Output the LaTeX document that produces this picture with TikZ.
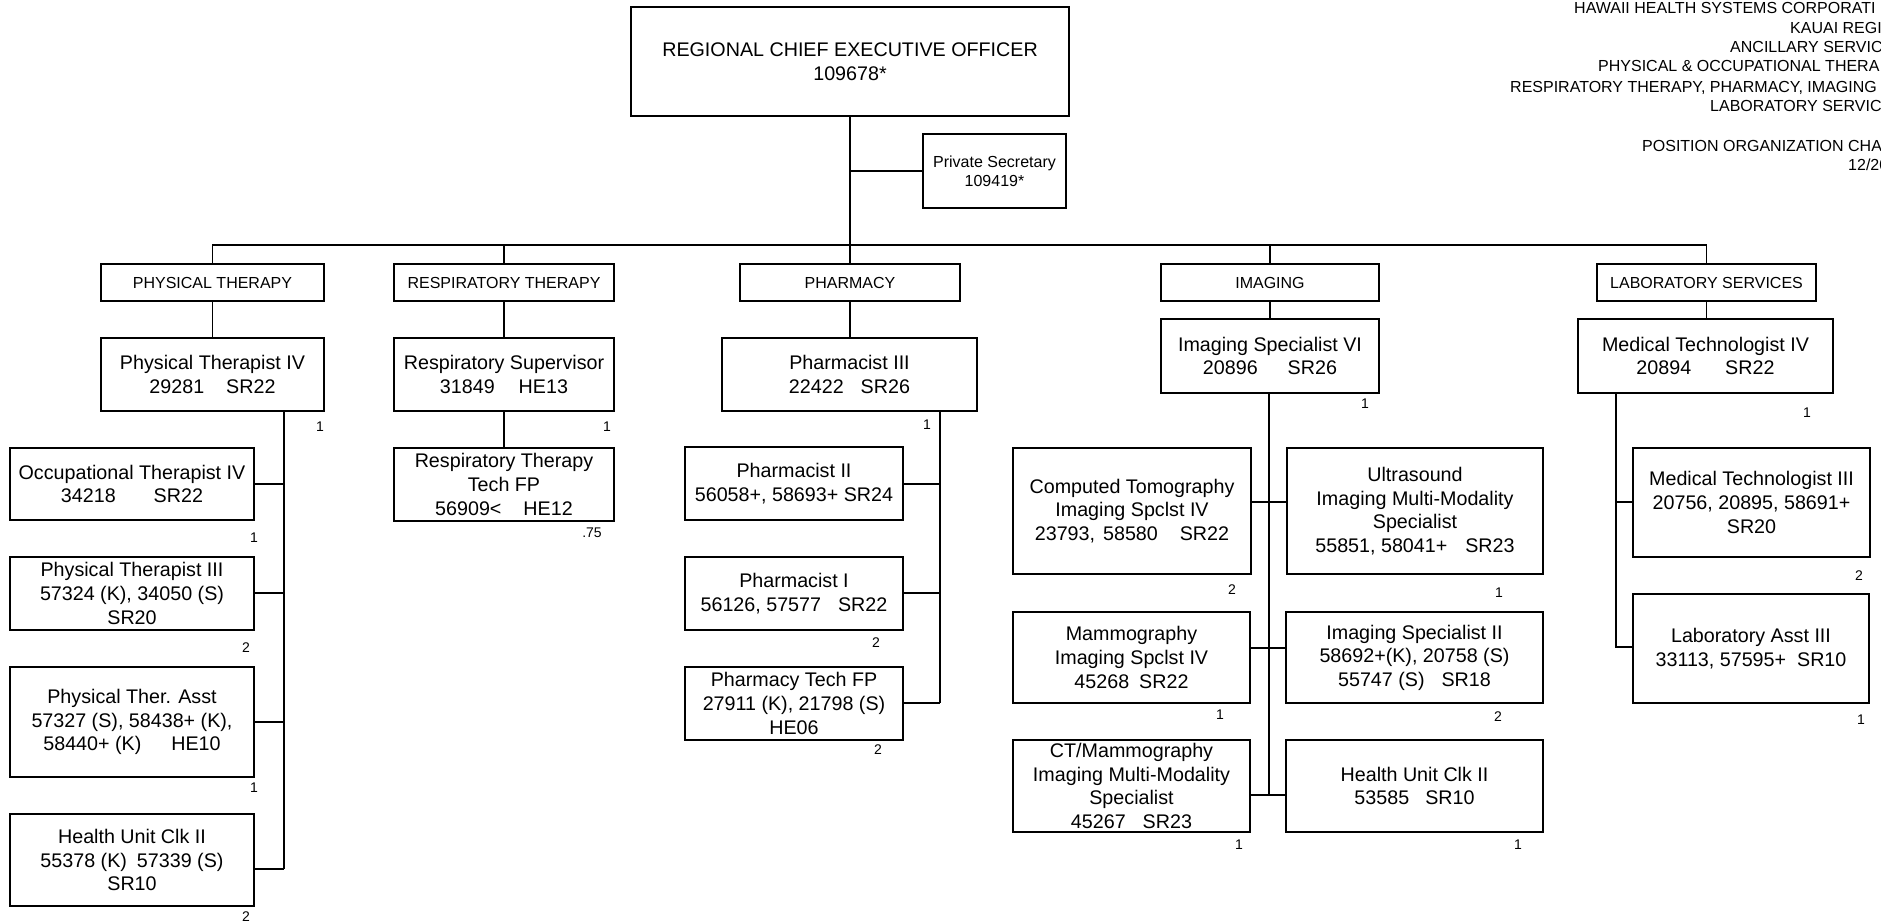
\documentclass[tikz,border=0pt]{standalone}
\usepackage{fontspec}
\setmainfont{Liberation Sans}
\tikzset{
  box/.style={draw, line width=1.4pt, inner sep=0pt, outer sep=0pt, align=center, font=\fontsize{19.7}{23.6}\selectfont},
  dept/.style={box, font=\fontsize{16}{19}\selectfont},
  psbox/.style={box, line width=2pt, font=\fontsize{16}{19}\selectfont},
  conn/.style={line width=1.4pt},
  cnt/.style={inner sep=0pt, font=\fontsize{14}{16}\selectfont},
  hdr/.style={inner sep=0pt, anchor=base west, font=\fontsize{16}{19}\selectfont},
}
\newcommand\orgbox[7][box]{\node[#1, minimum width={(#5-#3)*1pt}, minimum height={(#6-#4)*1pt}] (#2) at ({(#3+#5)/2},{(#4+#6)/2}) {#7};}
\begin{document}
\begin{tikzpicture}[x=1pt,y=-1pt]
\useasboundingbox (0,0) rectangle (1881,923);
\fill[white] (0,0) rectangle (1881,923);
\clip (0,0) rectangle (1881,923);

% header (clipped at right edge)
\node[hdr] (h1) at (1574,14) {HAWAII HEALTH SYSTEMS CORPORATI};
\node[hdr] (h2) at (1790,34) {KAUAI REGI};
\node[hdr] (h3) at (1730,53) {ANCILLARY SERVIC};
\node[hdr] (h4) at (1598,72) {PHYSICAL \& OCCUPATIONAL THERA};
\node[hdr] (h5) at (1510,93) {RESPIRATORY THERAPY, PHARMACY, IMAGING};
\node[hdr] (h6) at (1710,112) {LABORATORY SERVIC};
\node[hdr] (h7) at (1642,151) {POSITION ORGANIZATION CHA};
\node[hdr] (h8) at (1848,170) {12/20};

% top
\orgbox{ceo}{631}{7}{1069}{116}{REGIONAL CHIEF EXECUTIVE OFFICER\\109678*}
\orgbox[psbox]{ps}{923}{134}{1066}{208}{Private Secretary\\109419*}

% departments
\orgbox[dept]{ptd}{101}{264}{324}{301}{PHYSICAL THERAPY}
\orgbox[dept]{rtd}{394}{264}{614}{301}{RESPIRATORY THERAPY}
\orgbox[dept]{phd}{740}{264}{960}{301}{PHARMACY}
\orgbox[dept]{imd}{1161}{264}{1379}{301}{IMAGING}
\orgbox[dept]{labd}{1597}{264}{1816}{301}{LABORATORY SERVICES}

% heads
\orgbox{pt4}{101}{338}{324}{411}{Physical Therapist IV\\29281\hspace{22pt}SR22}
\orgbox{rs}{394}{338}{614}{411}{Respiratory Supervisor\\31849\hspace{24pt}HE13}
\orgbox{ph3}{722}{338}{977}{411}{Pharmacist III\\22422\hspace{17pt}SR26}
\orgbox{is6}{1161}{319}{1379}{393}{Imaging Specialist VI\\20896\hspace{30pt}SR26}
\orgbox{mt4}{1578}{319}{1833}{393}{Medical Technologist IV\\20894\hspace{34pt}SR22}

% physical therapy
\orgbox{ot4}{10}{448}{254}{520}{Occupational Therapist IV\\34218\hspace{38pt}SR22}
\orgbox{pt3}{10}{557}{254}{630}{Physical Therapist III\\57324 (K), 34050 (S)\\SR20}
\orgbox{pta}{10}{667}{254}{777}{Physical Ther. Asst\\57327 (S), 58438+ (K),\\58440+ (K)\hspace{30pt}HE10}
\orgbox{huc}{10}{814}{254}{906}{Health Unit Clk II\\55378 (K)\hspace{10pt}57339 (S)\\SR10}

% respiratory
\orgbox{rtt}{394}{448}{614}{521}{Respiratory Therapy\\Tech FP\\56909<\hspace{22pt}HE12}

% pharmacy
\orgbox{ph2}{685}{447}{903}{520}{Pharmacist II\\56058+, 58693+ SR24}
\orgbox{ph1}{685}{557}{903}{630}{Pharmacist I\\56126, 57577\hspace{17pt}SR22}
\orgbox{ptech}{685}{667}{903}{740}{Pharmacy Tech FP\\27911 (K), 21798 (S)\\HE06}

% imaging
\orgbox{ct}{1013}{448}{1251}{574}{Computed Tomography\\Imaging Spclst IV\\23793,\hspace{8pt}58580\hspace{22pt}SR22}
\orgbox{us}{1287}{448}{1543}{574}{Ultrasound\\Imaging Multi-Modality\\Specialist\\55851, 58041+\hspace{18pt}SR23}
\orgbox{mam}{1013}{612}{1250}{703}{Mammography\\Imaging Spclst IV\\45268\hspace{10pt}SR22}
\orgbox{is2}{1286}{612}{1543}{703}{Imaging Specialist II\\58692+(K), 20758 (S)\\55747 (S)\hspace{17pt}SR18}
\orgbox{ctm}{1013}{740}{1250}{832}{CT/Mammography\\Imaging Multi-Modality\\Specialist\\45267\hspace{17pt}SR23}
\orgbox{huci}{1286}{740}{1543}{832}{Health Unit Clk II\\53585\hspace{16pt}SR10}

% laboratory
\orgbox{mt3}{1633}{448}{1870}{557}{Medical Technologist III\\20756, 20895, 58691+\\SR20}
\orgbox{la3}{1633}{594}{1869}{703}{Laboratory Asst III\\33113, 57595+\hspace{11pt}SR10}

% connectors: top
\draw[conn] (ceo.south) -- (phd.north);
\draw[conn] (ceo.south |- ps.west) -- (ps.west);
\draw[conn] (ptd.north) -- (ptd.north |- 0,245) -- (labd.north |- 0,245) -- (labd.north);
\draw[conn] (rtd.north) -- (rtd.north |- 0,245);
\draw[conn] (imd.north) -- (imd.north |- 0,245);
\draw[conn] (ptd.south) -- (pt4.north);
\draw[conn] (rtd.south) -- (rs.north);
\draw[conn] (phd.south) -- (phd.south |- ph3.north);
\draw[conn] (imd.south) -- (is6.north);
\draw[conn] (labd.south) -- (labd.south |- mt4.north);

% physical therapy
\coordinate (ptv) at (284,869);
\draw[conn] (pt4.south -| ptv) -- (ptv);
\draw[conn] (ot4.east |- 0,484) -- (ptv |- 0,484);
\draw[conn] (pt3.east |- 0,593) -- (ptv |- 0,593);
\draw[conn] (pta.east |- 0,722) -- (ptv |- 0,722);
\draw[conn] (huc.east |- ptv) -- (ptv);

% respiratory
\draw[conn] (rs.south) -- (rtt.north);

% pharmacy
\coordinate (phv) at (940,703);
\draw[conn] (ph3.south -| phv) -- (phv);
\draw[conn] (ph2.east |- 0,484) -- (phv |- 0,484);
\draw[conn] (ph1.east |- 0,593) -- (phv |- 0,593);
\draw[conn] (ptech.east |- phv) -- (phv);

% imaging
\coordinate (imv) at (1269,795);
\draw[conn] (is6.south -| imv) -- (imv);
\draw[conn] (ct.east |- 0,502) -- (us.west |- 0,502);
\draw[conn] (mam.east |- 0,648) -- (is2.west |- 0,648);
\draw[conn] (ctm.east |- imv) -- (huci.west |- imv);

% laboratory
\coordinate (labv) at (1616,647);
\draw[conn] (mt4.south -| labv) -- (labv) -- (la3.west |- labv);
\draw[conn] (mt3.west |- 0,502) -- (labv |- 0,502);

% counts
\node[cnt] (c1) at (320,427) {1};
\node[cnt] (c2) at (607,427) {1};
\node[cnt] (c3) at (592,533) {.75};
\node[cnt] (c4) at (927,425) {1};
\node[cnt] (c5) at (1365,404) {1};
\node[cnt] (c6) at (1807,413) {1};
\node[cnt] (c7) at (254,538) {1};
\node[cnt] (c8) at (246,648) {2};
\node[cnt] (c9) at (254,788) {1};
\node[cnt] (c10) at (246,917) {2};
\node[cnt] (c11) at (876,643) {2};
\node[cnt] (c12) at (878,750) {2};
\node[cnt] (c13) at (1232,590) {2};
\node[cnt] (c14) at (1499,593) {1};
\node[cnt] (c15) at (1220,715) {1};
\node[cnt] (c16) at (1498,717) {2};
\node[cnt] (c17) at (1239,845) {1};
\node[cnt] (c18) at (1518,845) {1};
\node[cnt] (c19) at (1859,576) {2};
\node[cnt] (c20) at (1861,720) {1};
\end{tikzpicture}
\end{document}
